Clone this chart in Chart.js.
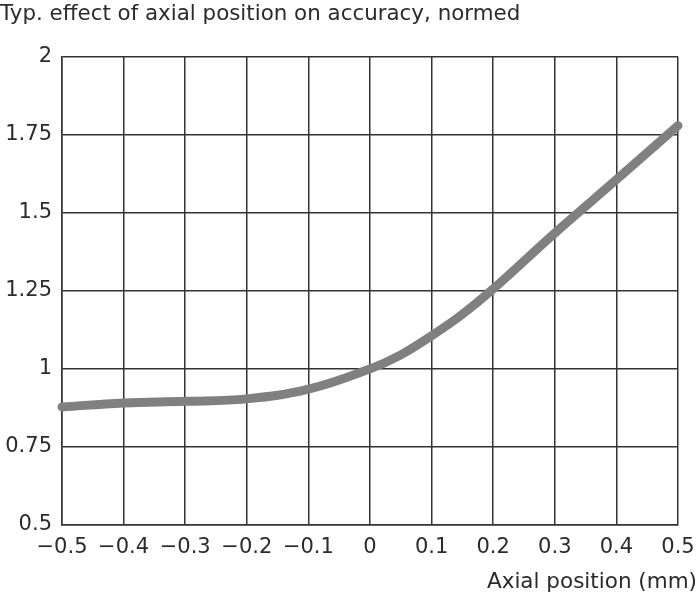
<!DOCTYPE html>
<html>
<head>
<meta charset="utf-8">
<script src="https://cdn.jsdelivr.net/npm/chart.js@4"></script>
<style>
  html, body { margin: 0; padding: 0; background: #fff; }
  #chart { display: block; }
</style>
</head>
<body>
<canvas id="chart" width="699" height="600"></canvas>
<script>
'use strict';

// --- Data ---
const chartTitle = 'Typ. effect of axial position on accuracy, normed';
const xAxisTitle = 'Axial position (mm)';
const positions = [-0.5, -0.4, -0.3, -0.2, -0.1, 0, 0.05, 0.1, 0.15, 0.2, 0.3, 0.4, 0.5];
const accuracy = [0.878, 0.891, 0.896, 0.904, 0.935, 1.0, 1.045, 1.106, 1.175, 1.256, 1.435, 1.606, 1.779];
const xTicks = [-0.5, -0.4, -0.3, -0.2, -0.1, 0, 0.1, 0.2, 0.3, 0.4, 0.5];
const xTickLabels = ['\u22120.5', '\u22120.4', '\u22120.3', '\u22120.2', '\u22120.1', '0', '0.1', '0.2', '0.3', '0.4', '0.5'];
const yTickLabels = ['0.5', '0.75', '1', '1.25', '1.5', '1.75', '2'];

const FONT = 'DejaVu Sans';
const INK = '#2b2b2b';
const GRID = '#333333';

// draws the x axis caption flush right, under the tick labels
const axisCaption = {
    id: 'axisCaption',
    afterDraw(chart) {
        const ctx = chart.ctx;
        ctx.save();
        ctx.font = `21.5px "${FONT}"`;
        ctx.fillStyle = INK;
        ctx.textAlign = 'right';
        ctx.textBaseline = 'middle';
        ctx.fillText(xAxisTitle, 697, 582);
        ctx.restore();
    }
};

const ctx = document.getElementById('chart').getContext('2d');
new Chart(ctx, {
    type: 'line',
    data: {
        datasets: [{
            data: positions.map((x, i) => ({ x: x, y: accuracy[i] })),
            borderColor: '#808082',
            borderWidth: 9,
            borderCapStyle: 'round',
            borderJoinStyle: 'round',
            tension: 0.4,
            pointRadius: 0,
            clip: false
        }]
    },
    options: {
        responsive: false,
        animation: false,
        layout: { padding: { left: 0, right: 21, top: 0, bottom: 0 } },
        plugins: {
            legend: { display: false },
            tooltip: { enabled: false },
            title: {
                display: true,
                text: chartTitle,
                align: 'start',
                color: INK,
                font: { family: FONT, size: 21.4, weight: 'normal' },
                padding: { top: 2, bottom: 29 }
            }
        },
        scales: {
            x: {
                type: 'linear',
                min: -0.5,
                max: 0.5,
                afterFit: (scale) => {
                    scale.height = 75;
                    scale.paddingLeft = 0;
                    scale.paddingRight = 0;
                },
                afterBuildTicks: (scale) => { scale.ticks = xTicks.map(v => ({ value: v })); },
                ticks: {
                    color: INK,
                    font: { family: FONT, size: 21 },
                    padding: 10,
                    maxRotation: 0,
                    autoSkip: false,
                    callback: (v, i) => xTickLabels[i]
                },
                grid: { color: GRID, lineWidth: 1.5, drawTicks: false },
                border: { color: GRID, width: 1.5 }
            },
            y: {
                min: 0.5,
                max: 2,
                afterFit: (scale) => { scale.width = 62; },
                afterBuildTicks: (scale) => { scale.ticks = yTickLabels.map(v => ({ value: parseFloat(v) })); },
                ticks: {
                    color: INK,
                    font: { family: FONT, size: 21 },
                    padding: 10,
                    callback: (v, i) => yTickLabels[i]
                },
                grid: { color: GRID, lineWidth: 1.5, drawTicks: false },
                border: { color: GRID, width: 1.5 }
            }
        }
    },
    plugins: [axisCaption]
});
</script>
</body>
</html>
